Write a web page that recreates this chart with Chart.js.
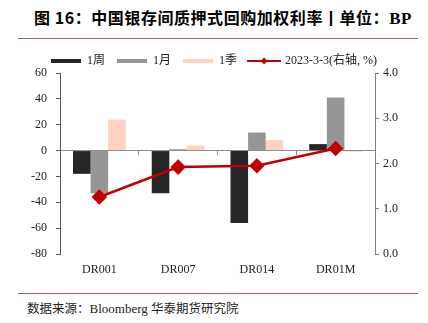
<!DOCTYPE html>
<html>
<head>
<meta charset="utf-8">
<script src="https://cdn.jsdelivr.net/npm/chart.js@4.4.0/dist/chart.umd.min.js"></script>
<style>
  html, body { margin: 0; padding: 0; background: #fff; }
  body { width: 428px; height: 323px; position: relative; overflow: hidden; }
  #title { position: absolute; left: 34px; top: 5px; font-family: "Noto Sans CJK SC", "Noto Sans", sans-serif; font-weight: bold; font-size: 16px; letter-spacing: 0.55px; color: #000; white-space: nowrap; line-height: 24px; }
  #title .bp { font-family: "Liberation Serif", serif; font-size: 17px; }
  .rule { position: absolute; left: 18px; width: 400px; height: 1px; background: #c9585a; }
  #src { position: absolute; left: 27px; top: 299px; font-family: "Liberation Serif", "Noto Sans CJK SC", serif; font-size: 13px; color: #222; white-space: nowrap; line-height: 18px; }
  #src .cn { font-family: "Noto Sans CJK SC", sans-serif; font-size: 12.5px; }
  #wrap { position: absolute; left: 0; top: 43px; width: 428px; height: 241px; }
</style>
</head>
<body>
<div id="title">图 16：中国银存间质押式回购加权利率丨单位：<span class="bp">BP</span></div>
<div class="rule" style="top:38px"></div>
<div id="wrap"><canvas id="c" width="428" height="241"></canvas></div>
<div class="rule" style="top:293px"></div>
<div id="src"><span class="cn">数据来源：</span>Bloomberg <span class="cn">华泰期货研究院</span></div>
<script>
const categories = ["DR001", "DR007", "DR014", "DR01M"];
const seriesNames = ["1周", "1月", "1季", "2023-3-3(右轴, %)"];
const week1 = [-18, -33, -56, 5];
const month1 = [-33, 1, 14, 41];
const quarter1 = [24, 4, 8, -1];
const rate20230303 = [1.26, 1.92, 1.95, 2.33];
const leftTicks = [-80, -60, -40, -20, 0, 20, 40, 60];
const rightTicks = [0, 1, 2, 3, 4];

const colors = ["#262626", "#969696", "#fbd3c0", "#c00000"];

function boxImg(color) {
  const c = document.createElement('canvas');
  c.width = 30; c.height = 4;
  const g = c.getContext('2d');
  g.fillStyle = color; g.fillRect(0, 0, 30, 4);
  return c;
}
function lineImg(color) {
  const c = document.createElement('canvas');
  c.width = 34; c.height = 8;
  const g = c.getContext('2d');
  g.fillStyle = color;
  g.fillRect(0, 3, 34, 2);
  g.beginPath(); g.moveTo(17, 0.5); g.lineTo(20.5, 4); g.lineTo(17, 7.5); g.lineTo(13.5, 4); g.closePath(); g.fill();
  return c;
}
const legendImgs = [boxImg(colors[0]), boxImg(colors[1]), boxImg(colors[2]), lineImg(colors[3])];

const serif = "'Liberation Serif', 'Noto Sans CJK SC', serif";

const legendHeightPlugin = {
  id: 'legendHeight',
  beforeLayout(chart) {
    const lg = chart.legend;
    if (lg && !lg._patched) {
      const orig = lg.fit;
      lg.fit = function () { orig.call(this); this.height = 30; };
      lg._patched = true;
    }
  }
};

new Chart(document.getElementById('c'), {
  data: {
    labels: categories,
    datasets: [
      { type: 'line', label: seriesNames[3], data: rate20230303, yAxisID: 'y1', borderColor: colors[3], backgroundColor: colors[3], borderWidth: 2.5, pointStyle: 'rectRot', pointRadius: 6, pointBackgroundColor: colors[3], pointBorderColor: colors[3], order: 0 },
      { type: 'bar', label: seriesNames[0], data: week1, yAxisID: 'y', backgroundColor: colors[0], order: 1 },
      { type: 'bar', label: seriesNames[1], data: month1, yAxisID: 'y', backgroundColor: colors[1], order: 1 },
      { type: 'bar', label: seriesNames[2], data: quarter1, yAxisID: 'y', backgroundColor: colors[2], order: 1 }
    ]
  },
  plugins: [legendHeightPlugin],
  options: {
    responsive: false,
    animation: false,
    devicePixelRatio: 1,
    datasets: { bar: { categoryPercentage: 0.67, barPercentage: 1.0 } },
    layout: { padding: { left: 0, right: 0, top: 0, bottom: 0 } },
    plugins: {
      tooltip: { enabled: false },
      legend: {
        position: 'top',
        labels: {
          font: { family: serif, size: 12 },
          color: '#222',
          usePointStyle: true,
          pointStyleWidth: 30,
          boxHeight: 8,
          padding: 12,
          generateLabels(chart) {
            const order = [1, 2, 3, 0];
            return order.map((di, k) => ({
              text: chart.data.datasets[di].label,
              pointStyle: legendImgs[k],
              fillStyle: colors[k],
              strokeStyle: colors[k],
              lineWidth: 0,
              hidden: false,
              datasetIndex: di,
              fontColor: '#222'
            }));
          }
        }
      }
    },
    scales: {
      x: {
        type: 'category',
        position: 'bottom',
        offset: true,
        grid: { display: false, drawTicks: false },
        border: { display: false },
        ticks: { font: { family: serif, size: 12 }, color: '#222', padding: 9 },
        afterFit(s) { s.height = 30; }
      },
      xz: {
        type: 'category',
        labels: categories,
        position: { y: 0 },
        offset: true,
        grid: { display: true, drawOnChartArea: false, offset: true, tickLength: 4, color: '#8c8c8c', lineWidth: 1 },
        border: { display: true, color: '#8c8c8c', width: 1 },
        ticks: { display: false }
      },
      y: {
        position: 'left',
        min: -80, max: 60,
        afterBuildTicks(s) { s.ticks = leftTicks.map(v => ({ value: v })); },
        grid: { drawOnChartArea: false, tickLength: 4, color: '#595959' },
        border: { display: true, color: '#595959', width: 1 },
        ticks: { font: { family: serif, size: 12 }, color: '#222', padding: 9, callback: v => String(v) },
        afterFit(s) { s.width = 60; }
      },
      y1: {
        position: 'right',
        min: 0, max: 4,
        afterBuildTicks(s) { s.ticks = rightTicks.map(v => ({ value: v })); },
        grid: { drawOnChartArea: false, tickLength: 4, color: '#7f7f7f' },
        border: { display: true, color: '#7f7f7f', width: 1 },
        ticks: { font: { family: serif, size: 12 }, color: '#222', padding: 4, callback: v => Number(v).toFixed(1) },
        afterFit(s) { s.width = 53; }
      }
    }
  }
});
</script>
</body>
</html>
